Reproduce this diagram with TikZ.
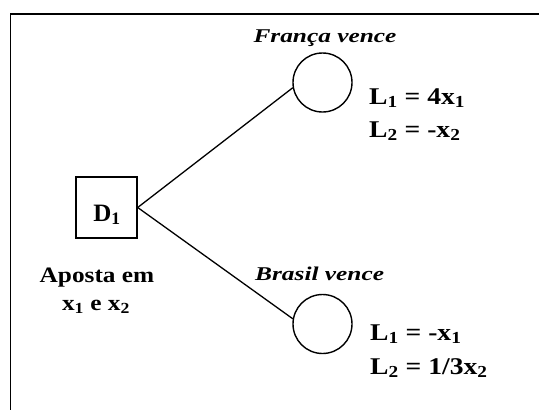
\documentclass[tikz,border=0pt]{standalone}
\usepackage{fontspec}
\setmainfont{Liberation Serif}
\newfontfamily\widefont[FakeStretch=1.3]{Liberation Serif}
\newfontfamily\midfont[FakeStretch=1.15]{Liberation Serif}
\begin{document}
\begin{tikzpicture}[x=1pt,y=-1pt,
  frame/.style={line width=1.8pt},
  edge/.style={line width=1.3pt},
  decbox/.style={draw,line width=1.4pt,minimum width=61pt,minimum height=61pt,inner sep=0pt},
  chance/.style={draw,circle,line width=1.4pt,minimum size=59pt,inner sep=0pt},
  dlbl/.style={font=\fontsize{25}{25}\selectfont\bfseries,inner sep=0pt},
  lbl/.style={font=\midfont\fontsize{24}{24}\selectfont\bfseries,inner sep=0pt},
  sidelbl/.style={font=\midfont\fontsize{22}{22}\selectfont\bfseries,inner sep=0pt},
  outcome/.style={font=\widefont\fontsize{19.5}{19.5}\selectfont\bfseries\itshape,inner sep=0pt}]
\useasboundingbox (0,0) rectangle (539,410);
\begin{scope}
\clip (0,0) rectangle (539,410);
\draw[frame] (10.5,14) rectangle (560,430);
\end{scope}
\node[decbox] (d1) at (106.5,207.5) {};
\node[dlbl,anchor=base] at (107,221) {D\textsubscript{1}};
\node[chance] (c1) at (322.5,82.5) {};
\node[chance] (c2) at (322.5,324) {};
\draw[edge] (d1.east) -- (c1.190);
\draw[edge] (d1.east) -- (c2.170);
\node[outcome,anchor=base] (t1) at (325,42) {França vence};
\node[outcome,anchor=base west] (t2) at (255,280) {Brasil vence};
\node[lbl,anchor=base west] (a1) at (369,104) {L\textsubscript{1} = 4x\textsubscript{1}};
\node[lbl,anchor=base west] (a2) at (369,137) {L\textsubscript{2} = -x\textsubscript{2}};
\node[lbl,anchor=base west] (b1) at (370,340) {L\textsubscript{1} = -x\textsubscript{1}};
\node[lbl,anchor=base west] (b2) at (370,374) {L\textsubscript{2} = 1/3x\textsubscript{2}};
\node[sidelbl,anchor=base] (p1) at (97,282) {Aposta em};
\node[sidelbl,anchor=base] (p2) at (96,310) {x\textsubscript{1} e x\textsubscript{2}};
\end{tikzpicture}
\end{document}
